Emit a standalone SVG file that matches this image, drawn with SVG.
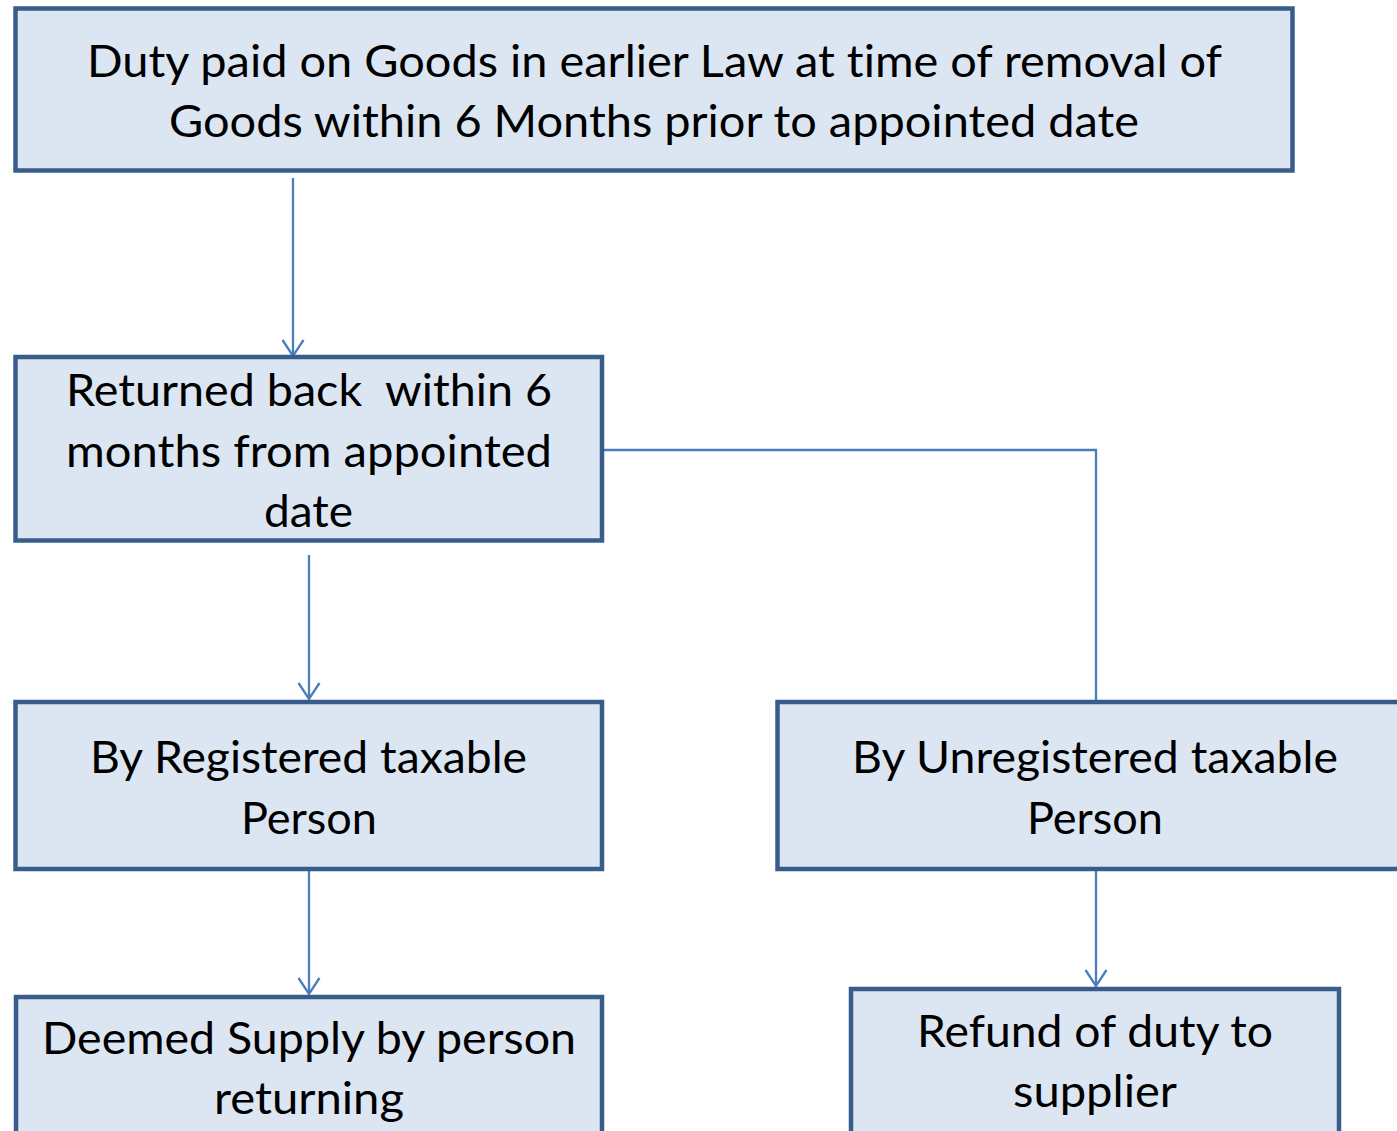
<svg xmlns="http://www.w3.org/2000/svg" width="1397" height="1131" viewBox="0 0 1397 1131">
  <style>
    .box { fill: #dce6f2; stroke: #385d8a; stroke-width: 4.5; }
    .label { font-family: Lato, "Open Sans", "Liberation Sans", sans-serif; font-size: 44px; fill: #000; text-anchor: middle; font-variant-ligatures: none; }
    .link { fill: none; stroke: #4a7ebb; stroke-width: 2.3; }
  </style>
  <defs>
    <!-- open V arrowhead, tip at the end of the line -->
    <marker id="arrow" markerUnits="userSpaceOnUse" markerWidth="22" markerHeight="26" viewBox="-19 -13 22 26" refX="0" refY="0" orient="auto" overflow="visible">
      <path d="M -16 -10.5 L 0 0 L -16 10.5" fill="none" stroke="#4a7ebb" stroke-width="2.3" stroke-linejoin="miter"/>
    </marker>
  </defs>
  <rect width="1397" height="1131" fill="#ffffff"/>

  <g id="connectors">
    <line class="link" x1="293" y1="178" x2="293" y2="356" marker-end="url(#arrow)"/>
    <line class="link" x1="309" y1="555" x2="309" y2="699" marker-end="url(#arrow)"/>
    <line class="link" x1="309" y1="871" x2="309" y2="994" marker-end="url(#arrow)"/>
    <line class="link" x1="1096" y1="871" x2="1096" y2="986" marker-end="url(#arrow)"/>
    <polyline class="link" points="604,450 1096,450 1096,702"/>
  </g>

  <g id="node-duty-paid">
    <rect class="box" x="15.5" y="8.5" width="1277" height="162"/>
    <text class="label" x="654.5" y="77" textLength="1135" lengthAdjust="spacingAndGlyphs">Duty paid on Goods in earlier Law at time of removal of</text>
    <text class="label" x="654" y="137" textLength="970" lengthAdjust="spacingAndGlyphs">Goods within 6 Months prior to appointed date</text>
  </g>

  <g id="node-returned-back">
    <rect class="box" x="15.5" y="357" width="586.5" height="183.5"/>
    <text class="label" x="309" y="406" textLength="486" lengthAdjust="spacingAndGlyphs" xml:space="preserve">Returned back  within 6</text>
    <text class="label" x="309" y="467" textLength="486" lengthAdjust="spacingAndGlyphs">months from appointed</text>
    <text class="label" x="308.5" y="527" textLength="89" lengthAdjust="spacingAndGlyphs">date</text>
  </g>

  <g id="node-registered">
    <rect class="box" x="15.5" y="702" width="586.5" height="167"/>
    <text class="label" x="308.5" y="773" textLength="437" lengthAdjust="spacingAndGlyphs">By Registered taxable</text>
    <text class="label" x="309" y="834" textLength="136" lengthAdjust="spacingAndGlyphs">Person</text>
  </g>

  <g id="node-unregistered">
    <rect class="box" x="777.5" y="702" width="635" height="167"/>
    <text class="label" x="1095" y="773" textLength="486" lengthAdjust="spacingAndGlyphs">By Unregistered taxable</text>
    <text class="label" x="1095" y="834" textLength="136" lengthAdjust="spacingAndGlyphs">Person</text>
  </g>

  <g id="node-deemed-supply">
    <rect class="box" x="16" y="997" width="586" height="160"/>
    <text class="label" x="309" y="1054" textLength="534" lengthAdjust="spacingAndGlyphs">Deemed Supply by person</text>
    <text class="label" x="309" y="1114" textLength="190" lengthAdjust="spacingAndGlyphs">returning</text>
  </g>

  <g id="node-refund">
    <rect class="box" x="851" y="989" width="488" height="168"/>
    <text class="label" x="1095" y="1047" textLength="356" lengthAdjust="spacingAndGlyphs">Refund of duty to</text>
    <text class="label" x="1095" y="1107" textLength="164" lengthAdjust="spacingAndGlyphs">supplier</text>
  </g>
</svg>
